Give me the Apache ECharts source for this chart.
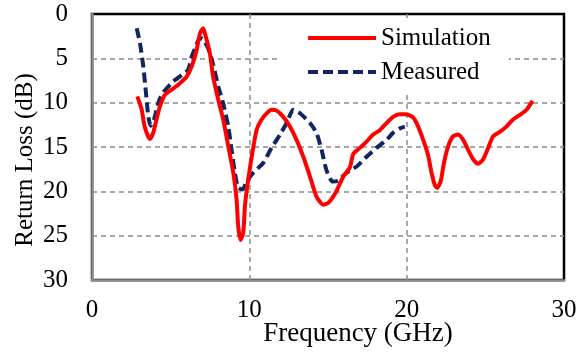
<!DOCTYPE html>
<html>
<head>
<meta charset="utf-8">
<script src="https://cdn.jsdelivr.net/npm/echarts@6/dist/echarts.min.js"></script>
<style>html,body{margin:0;padding:0;background:#fff;}#c{width:584px;height:356px;}</style>
</head>
<body>
<div id="c"></div>
<script>
var xTicks = [0, 10, 20, 30];
var yTicks = [0, 5, 10, 15, 20, 25, 30];
var seriesNames = ['Simulation', 'Measured'];
var xTitle = 'Frequency (GHz)';
var yTitle = 'Return Loss (dB)';

var simulation = [
[2.88,9.3],[3.16,10.8],[3.30,12.3],[3.47,13.4],[3.68,14.1],[3.89,13.4],[4.10,11.9],[4.32,10.4],[4.64,9.1],[5.17,8.4],[5.59,7.8],[6.01,7.1],[6.34,5.9],[6.65,4.05],[6.86,2.2],[7.07,1.6],[7.24,2.6],[7.49,4.4],[7.70,7.1],[8.03,9.7],[8.34,11.9],[8.66,14.9],[8.98,17.9],[9.19,20.9],[9.29,23.9],[9.44,25.5],[9.61,24.7],[9.72,21.7],[9.87,19.4],[10.15,16.1],[10.46,13.1],[10.78,11.9],[11.10,11.2],[11.41,10.8],[11.74,10.9],[12.16,11.6],[12.58,12.7],[13.0,14.2],[13.43,16.1],[13.85,18.3],[14.27,20.6],[14.69,21.5],[15.02,21.3],[15.5,20.1],[15.95,18.4],[16.39,17.3],[16.6,15.8],[17.03,15.1],[17.45,14.4],[17.87,13.6],[18.29,13.1],[18.72,12.3],[19.14,11.6],[19.57,11.3],[19.99,11.3],[20.42,11.7],[20.73,12.7],[21.05,14.2],[21.36,15.9],[21.58,17.9],[21.79,19.3],[21.93,19.6],[22.16,18.9],[22.37,16.8],[22.64,14.9],[22.95,13.8],[23.27,13.6],[23.59,14.2],[23.9,15.3],[24.23,16.4],[24.54,16.9],[24.86,16.4],[25.18,15.1],[25.49,13.8],[25.92,13.3],[26.34,12.7],[26.76,11.9],[27.18,11.4],[27.62,10.8],[28.0,9.8]
];
var measured = [
[2.84,1.6],[3.05,3.3],[3.26,5.9],[3.43,8.9],[3.58,11.6],[3.73,12.6],[3.94,11.9],[4.10,10.8],[4.32,9.5],[4.64,8.6],[5.17,7.6],[5.69,6.9],[6.11,6.3],[6.34,4.8],[6.55,3.9],[6.86,2.7],[7.07,2.9],[7.39,3.9],[7.70,5.7],[8.03,8.2],[8.34,10.1],[8.66,12.7],[8.87,15.3],[9.08,17.9],[9.29,19.6],[9.57,19.8],[9.83,18.9],[10.25,17.9],[10.88,16.8],[11.41,15.1],[11.95,13.6],[12.37,12.3],[12.79,10.8],[13.22,11.2],[13.85,12.3],[14.27,13.4],[14.59,15.3],[14.9,17.6],[15.29,18.9],[15.65,18.8],[16.18,17.9],[16.82,17.2],[17.45,16.1],[18.08,15.1],[18.72,14.2],[19.14,13.4],[19.57,12.9],[19.88,12.7]
];

var FONT = 'Liberation Serif';
var chart = echarts.init(document.getElementById('c'), null, {renderer: 'canvas'});
var gridDash = {show: true, showMinLine: false, showMaxLine: false, lineStyle: {color: '#8c8c8c', width: 1.5, type: [5, 4]}};
chart.setOption({
  animation: false,
  backgroundColor: '#fff',
  grid: {left: 92, right: 20, top: 14, bottom: 76, show: true, borderColor: '#000', borderWidth: 2.5, backgroundColor: '#fff'},
  xAxis: {
    type: 'value', min: xTicks[0], max: xTicks[xTicks.length - 1], interval: 10,
    axisLine: {onZero: false, lineStyle: {color: '#8c8c8c', width: 2.5}},
    axisTick: {show: false},
    axisLabel: {margin: 18, fontFamily: FONT, fontSize: 25, color: '#000'},
    splitLine: gridDash
  },
  yAxis: {
    type: 'value', inverse: true, min: yTicks[0], max: yTicks[yTicks.length - 1], interval: 5,
    axisLine: {onZero: false, lineStyle: {color: '#8c8c8c', width: 2.5}},
    axisTick: {show: false},
    axisLabel: {margin: 24, fontFamily: FONT, fontSize: 25, color: '#000'},
    splitLine: gridDash
  },
  legend: {
    orient: 'vertical', left: 278, top: 18,
    padding: [7, 18, 7, 28],
    backgroundColor: '#fff',
    itemWidth: 68, itemHeight: 14, itemGap: 8,
    itemStyle: {opacity: 0},
    lineStyle: {width: 4},
    textStyle: {fontFamily: FONT, fontSize: 25, color: '#000', lineHeight: 26},
    data: seriesNames
  },
  series: [
    {name: seriesNames[0], type: 'line', data: simulation, showSymbol: false, symbol: 'none', smooth: 0.2,
     lineStyle: {color: '#ff0000', width: 4}, itemStyle: {color: '#ff0000'}, z: 3},
    {name: seriesNames[1], type: 'line', data: measured, showSymbol: false, symbol: 'none', smooth: 0.2,
     lineStyle: {color: '#0f2660', width: 4, type: [10, 5]}, itemStyle: {color: '#0f2660'}, z: 2}
  ],
  graphic: [
    {type: 'text', x: 358, y: 334, style: {text: xTitle, font: '27px "Liberation Serif"', fill: '#000', textAlign: 'center', textVerticalAlign: 'middle'}},
    {type: 'text', x: 25, y: 160, rotation: Math.PI / 2, style: {text: yTitle, font: '25px "Liberation Serif"', fill: '#000', textAlign: 'center', textVerticalAlign: 'middle'}}
  ]
});
</script>
</body>
</html>
